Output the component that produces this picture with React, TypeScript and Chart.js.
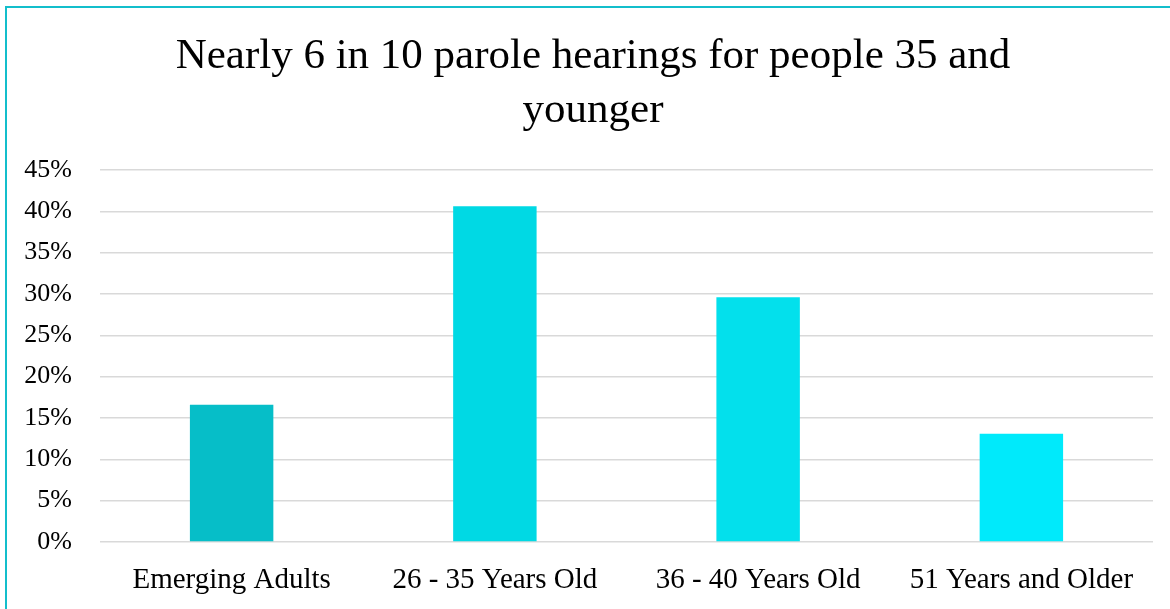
import React, { useEffect, useRef } from "react";
import { Chart, registerables } from "chart.js";

Chart.register(...registerables);

const categories: string[] = [
  "Emerging Adults",
  "26 - 35 Years Old",
  "36 - 40 Years Old",
  "51 Years and Older",
];
const shares: number[] = [0.166, 0.406, 0.296, 0.131];
const barColors: string[] = ["#06BEC8", "#00D9E4", "#03E0EC", "#00EAFB"];
const titleLines: string[] = ["Nearly 6 in 10 parole hearings for people 35 and", "younger"];
const yMax = 0.45;
const yStep = 0.05;

const FONT = "'Liberation Serif', 'Times New Roman', serif";

// layout constants (positions, not data)
const TITLE_CENTER_X = 593;
const TITLE_BASELINE_Y = 68;
const TITLE_LINE_GAP = 54;
const TITLE_SIZE = 43;

const titlePlugin = {
  id: "centeredTitle",
  afterDraw(chart: any) {
    const ctx = chart.ctx as CanvasRenderingContext2D;
    ctx.save();
    ctx.fillStyle = "#000000";
    ctx.font = `normal ${TITLE_SIZE}px ${FONT}`;
    ctx.textAlign = "center";
    ctx.textBaseline = "alphabetic";
    titleLines.forEach((line, i) => {
      ctx.fillText(line, TITLE_CENTER_X, TITLE_BASELINE_Y + i * TITLE_LINE_GAP);
    });
    ctx.restore();
  },
};

export default function App() {
  const ref = useRef<HTMLCanvasElement | null>(null);

  useEffect(() => {
    document.body.style.margin = "0";
    const canvas = ref.current;
    if (!canvas) return;
    const chart = new Chart(canvas, {
      type: "bar",
      data: {
        labels: categories,
        datasets: [
          {
            data: shares,
            backgroundColor: barColors,
            borderWidth: 0,
            categoryPercentage: 1,
            barPercentage: 0.317,
          },
        ],
      },
      plugins: [titlePlugin],
      options: {
        animation: false,
        responsive: false,
        maintainAspectRatio: false,
        devicePixelRatio: 1,
        layout: { padding: { left: 16, right: 17, top: 170, bottom: 0 } },
        plugins: {
          legend: { display: false },
          tooltip: { enabled: false },
          title: { display: false },
        },
        scales: {
          x: {
            grid: { display: false, drawTicks: false },
            border: { display: false },
            ticks: {
              color: "#000000",
              font: { family: FONT, size: 29 },
              padding: 21,
              maxRotation: 0,
              autoSkip: false,
            },
            afterFit: (scale: any) => {
              scale.height = 609 - 542;
            },
          },
          y: {
            min: 0,
            max: yMax,
            grid: { color: "#D9D9D9", lineWidth: 1.5, drawTicks: false },
            border: { display: false },
            ticks: {
              stepSize: yStep,
              color: "#000000",
              font: { family: FONT, size: 26 },
              padding: 28,
              callback: (v: any) => `${Math.round(Number(v) * 100)}%`,
            },
            afterFit: (scale: any) => {
              scale.width = 84;
            },
          },
        },
      },
    });
    return () => chart.destroy();
  }, []);

  return (
    <div style={{ position: "fixed", left: 0, top: 0, width: 1170, height: 609, overflow: "hidden", background: "#ffffff" }}>
      <div
        style={{
          position: "absolute",
          left: 5,
          top: 6,
          width: 1200,
          height: 640,
          borderLeft: "2px solid #13BECB",
          borderTop: "2px solid #13BECB",
        }}
      />
      <canvas ref={ref} width={1170} height={609} style={{ position: "absolute", left: 0, top: 0, width: 1170, height: 609 }} />
    </div>
  );
}
